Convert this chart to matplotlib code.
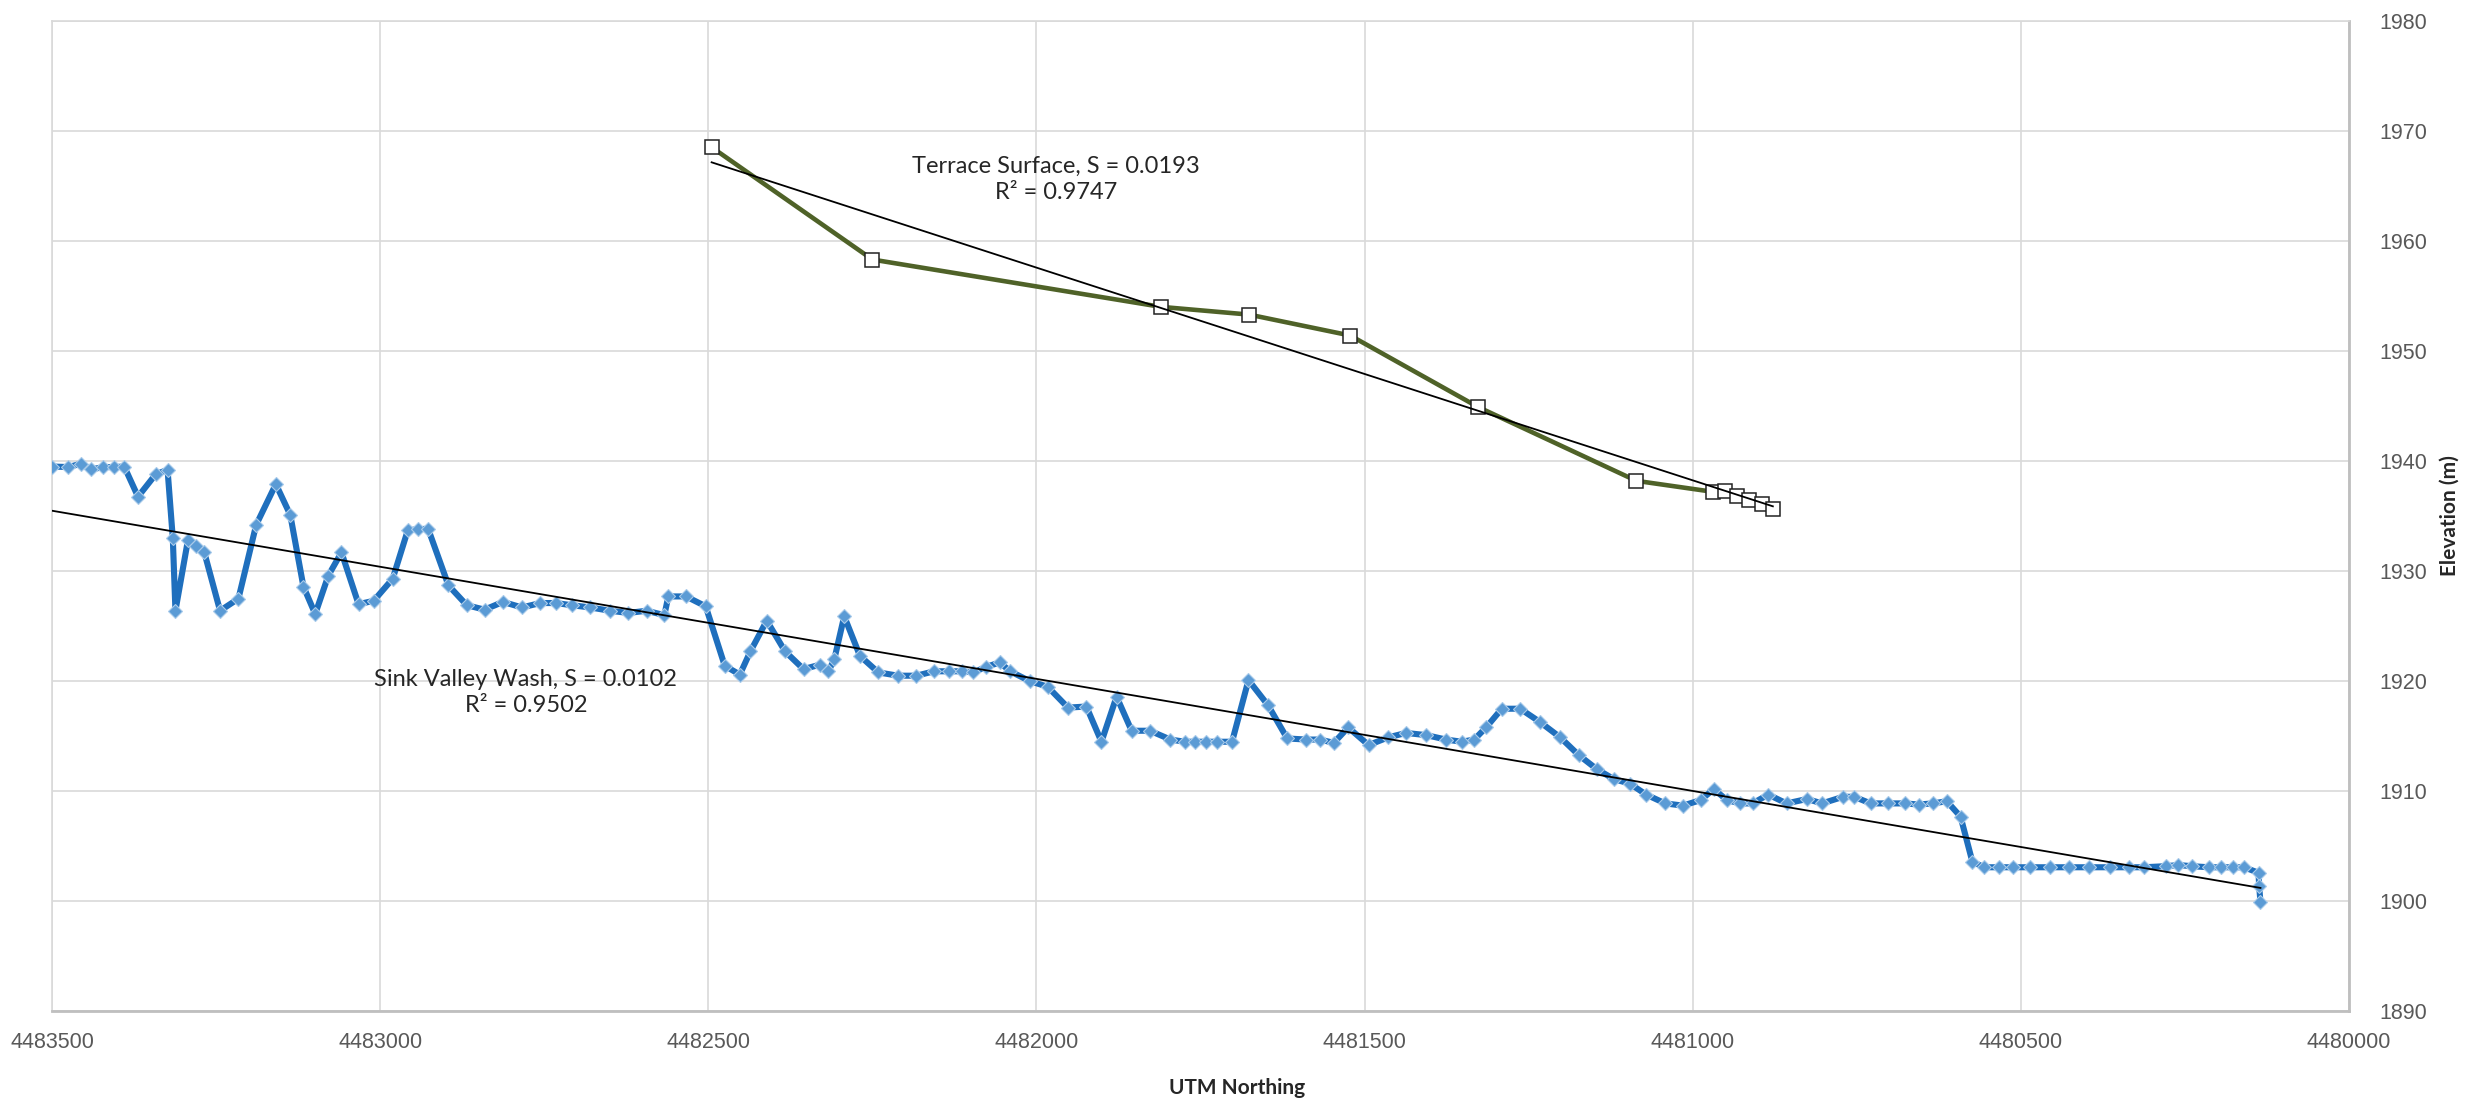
import numpy as np
import matplotlib
matplotlib.use("Agg")
import matplotlib.pyplot as plt

# ---------------- data ----------------
sink_x = [
    4483500, 4483475, 4483456, 4483440, 4483422, 4483405, 4483390, 4483369, 4483342, 4483324,
    4483316, 4483312, 4483293, 4483281, 4483268, 4483244, 4483216, 4483189, 4483159, 4483137,
    4483117, 4483099, 4483079, 4483059, 4483033, 4483010, 4482981, 4482958, 4482943, 4482927,
    4482896, 4482868, 4482841, 4482813, 4482784, 4482756, 4482732, 4482708, 4482680, 4482650,
    4482622, 4482594, 4482567, 4482561, 4482534, 4482504, 4482475, 4482452, 4482436, 4482411,
    4482383, 4482355, 4482330, 4482317, 4482308, 4482293, 4482269, 4482241, 4482211, 4482183,
    4482156, 4482134, 4482114, 4482096, 4482077, 4482056, 4482040, 4482010, 4481983, 4481952,
    4481924, 4481901, 4481878, 4481855, 4481827, 4481796, 4481774, 4481758, 4481742, 4481725,
    4481702, 4481677, 4481647, 4481618, 4481589, 4481568, 4481547, 4481525, 4481494, 4481464,
    4481437, 4481406, 4481376, 4481352, 4481333, 4481315, 4481291, 4481263, 4481233, 4481202,
    4481174, 4481146, 4481120, 4481096, 4481071, 4481042, 4481015, 4480988, 4480968, 4480948,
    4480928, 4480909, 4480885, 4480857, 4480826, 4480803, 4480771, 4480754, 4480729, 4480702,
    4480677, 4480656, 4480634, 4480613, 4480592, 4480574, 4480556, 4480534, 4480512, 4480486,
    4480456, 4480426, 4480396, 4480365, 4480336, 4480312, 4480279, 4480260, 4480240, 4480214,
    4480195, 4480177, 4480160, 4480138, 4480137, 4480135,
]
sink_elev = [
    1939.5, 1939.45, 1939.76, 1939.24, 1939.45, 1939.45, 1939.5, 1936.76, 1938.8, 1939.2,
    1932.97, 1926.4, 1932.8, 1932.3, 1931.7, 1926.4, 1927.5, 1934.2, 1937.9, 1935.1,
    1928.6, 1926.1, 1929.6, 1931.7, 1927.0, 1927.3, 1929.3, 1933.7, 1933.8, 1933.85,
    1928.7, 1926.9, 1926.5, 1927.2, 1926.7, 1927.1, 1927.1, 1926.9, 1926.7, 1926.4,
    1926.2, 1926.4, 1926.0, 1927.7, 1927.7, 1926.8, 1921.4, 1920.6, 1922.7, 1925.5,
    1922.7, 1921.1, 1921.5, 1920.9, 1922.0, 1925.9, 1922.3, 1920.8, 1920.5, 1920.5,
    1920.9, 1920.9, 1920.9, 1920.8, 1921.3, 1921.7, 1920.9, 1920.0, 1919.5, 1917.6,
    1917.7, 1914.5, 1918.6, 1915.5, 1915.5, 1914.7, 1914.5, 1914.5, 1914.5, 1914.5,
    1914.5, 1920.1, 1917.8, 1914.8, 1914.7, 1914.7, 1914.4, 1915.8, 1914.2, 1914.9,
    1915.3, 1915.1, 1914.7, 1914.5, 1914.7, 1915.8, 1917.5, 1917.5, 1916.3, 1914.9,
    1913.3, 1912.0, 1911.1, 1910.7, 1909.7, 1908.9, 1908.7, 1909.2, 1910.2, 1909.2,
    1908.9, 1908.9, 1909.7, 1908.9, 1909.3, 1908.9, 1909.5, 1909.5, 1908.9, 1908.9,
    1908.9, 1908.8, 1908.9, 1909.1, 1907.7, 1903.6, 1903.1, 1903.1, 1903.1, 1903.1,
    1903.1, 1903.1, 1903.1, 1903.1, 1903.1, 1903.1, 1903.2, 1903.3, 1903.2, 1903.1,
    1903.1, 1903.1, 1903.1, 1902.6, 1901.4, 1899.9,
]

terrace_x = [4482495, 4482250, 4481810, 4481676, 4481522, 4481327, 4481086,
             4480969, 4480951, 4480933, 4480914, 4480895, 4480878]
terrace_elev = [1968.5, 1958.3, 1954.0, 1953.3, 1951.4, 1944.9, 1938.2,
                1937.2, 1937.3, 1936.8, 1936.5, 1936.1, 1935.6]

x_ticks = [4483500, 4483000, 4482500, 4482000, 4481500, 4481000, 4480500, 4480000]
y_ticks = [1890, 1900, 1910, 1920, 1930, 1940, 1950, 1960, 1970, 1980]

sink_label = "Sink Valley Wash, S = 0.0102\nR\u00b2 = 0.9502"
terrace_label = "Terrace Surface, S = 0.0193\nR\u00b2 = 0.9747"

# ---------------- figure ----------------
fig = plt.figure(figsize=(24.67, 11.04), dpi=100)
ax = fig.add_axes([0.0211, 0.0838, 0.9311, 0.8975])

grid_c = "#d9d9d9"
ax.set_xlim(x_ticks[0], x_ticks[-1])
ax.set_ylim(y_ticks[0], y_ticks[-1])
ax.set_xticks(x_ticks)
ax.set_xticklabels([str(v) for v in x_ticks])
ax.set_yticks(y_ticks)
ax.set_yticklabels([str(v) for v in y_ticks])
ax.grid(True, color=grid_c, linewidth=1.2, zorder=0)
ax.set_axisbelow(True)

for side in ["left", "top"]:
    ax.spines[side].set_color(grid_c)
    ax.spines[side].set_linewidth(1.2)
for side in ["bottom", "right"]:
    ax.spines[side].set_color("#bfbfbf")
    ax.spines[side].set_linewidth(2.0)

ax.yaxis.tick_right()
ax.tick_params(axis="both", length=0, colors="#595959", labelsize=15.5)
ax.tick_params(axis="x", pad=15)
ax.tick_params(axis="y", pad=22)
for lab in ax.get_xticklabels() + ax.get_yticklabels():
    lab.set_fontfamily("Liberation Sans")

# Sink Valley Wash series
sx = np.array(sink_x, dtype=float)
sy = np.array(sink_elev, dtype=float)
ax.plot(sx, sy, color="#1f6fbd", linewidth=4.4, zorder=3)
ax.plot(sx, sy, linestyle="none", marker="D", markersize=7.2,
        markerfacecolor="#5b9bd5", markeredgecolor="#a9cbea",
        markeredgewidth=0.8, zorder=4)

# Terrace series
tx = np.array(terrace_x, dtype=float)
ty = np.array(terrace_elev, dtype=float)
ax.plot(tx, ty, color="#4f6228", linewidth=3.3, zorder=5,
        marker="s", markersize=9.5, markerfacecolor="white",
        markeredgecolor="#222222", markeredgewidth=1.1)

# linear trendlines
for xs, ys in [(sx, sy), (tx, ty)]:
    k, b = np.polyfit(xs, ys, 1)
    xx = np.array([xs.max(), xs.min()])
    ax.plot(xx, k * xx + b, color="black", linewidth=1.3, zorder=6)

ax.text(4482778, 1919.0, sink_label, ha="center", va="center",
        fontsize=17, family="Lato", color="#262626", linespacing=1.3, zorder=7)
ax.text(4481970, 1965.6, terrace_label, ha="center", va="center",
        fontsize=17, family="Lato", color="#262626", linespacing=1.3, zorder=7)

fig.text(0.5014, 0.0145, "UTM Northing", ha="center", va="center",
         fontsize=15, fontweight="bold", family="Lato", color="#262626")
fig.text(0.9929, 0.5326, "Elevation (m)", ha="center", va="center",
         rotation=90, fontsize=15, fontweight="bold", family="Lato", color="#262626")

fig.savefig("out.png", dpi=100, facecolor="white")
